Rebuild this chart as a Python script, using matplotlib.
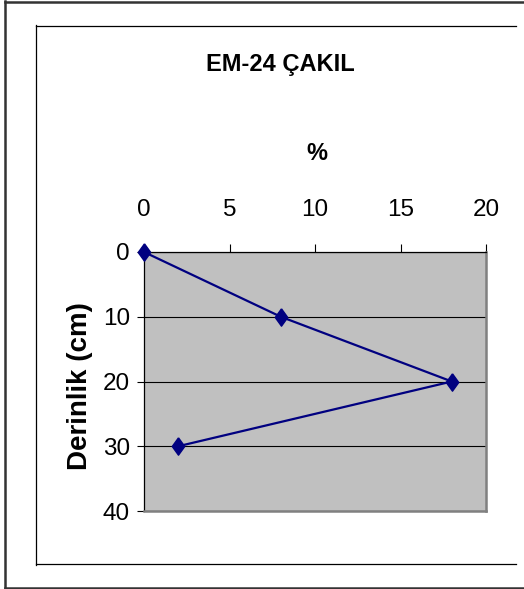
import matplotlib
matplotlib.use("Agg")
import matplotlib.pyplot as plt
from matplotlib.lines import Line2D

percent = [0, 8, 18, 2]
depth = [0, 10, 20, 30]
xticks = [0, 5, 10, 15, 20]
yticks = [0, 10, 20, 30, 40]
title = "EM-24 ÇAKIL"
xlabel = "%"
ylabel = "Derinlik (cm)"

plt.rcParams['font.family'] = ['Liberation Sans', 'DejaVu Sans']

W, H = 524, 589
fig = plt.figure(figsize=(W / 100, H / 100), dpi=100)

def fx(px):
    return px / W

def fy(py):
    return 1 - py / H

# outer frame (left, top, bottom)
for xs, ys in [([5, 5], [1, 588]), ([5, 524], [2, 2]), ([5, 524], [587.5, 587.5])]:
    fig.add_artist(Line2D([fx(v) for v in xs], [fy(v) for v in ys], color='#333333', lw=1.8))
# inner frame
for xs, ys in [([36, 36], [25, 565]), ([36, 516], [25.5, 25.5]), ([36, 516], [564, 564])]:
    fig.add_artist(Line2D([fx(v) for v in xs], [fy(v) for v in ys], color='black', lw=0.9))

ax = fig.add_axes([fx(144), fy(511), fx(486) - fx(144), fy(252) - fy(511)])
ax.set_facecolor('#C0C0C0')
diamond = [(0, 1), (0.72, 0), (0, -1), (-0.72, 0), (0, 1)]
ax.plot(percent, depth, color='#000080', lw=1.6, marker=diamond, ms=12.5,
        markerfacecolor='#000080', markeredgecolor='#000080', clip_on=False, zorder=5)
ax.set_xlim(0, 20)
ax.set_ylim(40, 0)
ax.set_xticks(xticks)
ax.set_yticks(yticks)
ax.xaxis.tick_top()
ax.tick_params(axis='x', direction='out', length=6, width=0.8, pad=16, labelsize=17.5)
ax.tick_params(axis='y', direction='out', length=5, width=0.8, pad=5, labelsize=17.5)
ax.yaxis.grid(True, color='black', lw=0.8)
ax.set_axisbelow(True)
for s in ['left', 'top']:
    ax.spines[s].set_color('black')
    ax.spines[s].set_linewidth(0.9)
for s in ['right', 'bottom']:
    ax.spines[s].set_color('#808080')
    ax.spines[s].set_linewidth(1.8)

fig.text(fx(280), fy(64), title, ha='center', va='center', fontsize=17, fontweight='bold')
fig.text(fx(317), fy(154), xlabel, ha='center', va='center', fontsize=17, fontweight='bold')
fig.text(fx(80), fy(386), ylabel, ha='center', va='center', fontsize=20, fontweight='bold', rotation=90)

fig.savefig('out.png', dpi=100)
